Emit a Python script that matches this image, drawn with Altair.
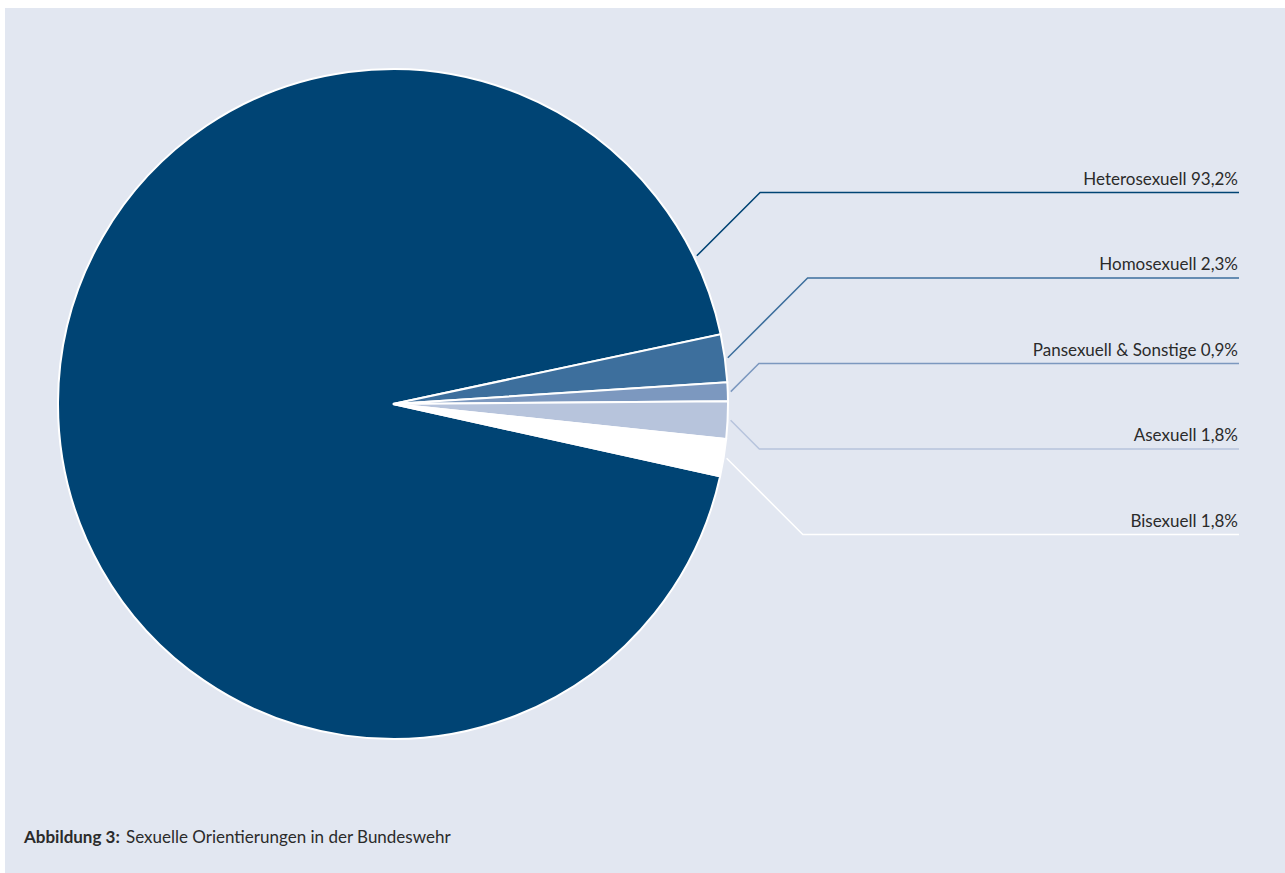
import math
import altair as alt
import pandas as pd

# ---------------- data ----------------
categories = ["Heterosexuell", "Homosexuell", "Pansexuell & Sonstige", "Asexuell", "Bisexuell"]
values = [93.2, 2.3, 0.9, 1.8, 1.8]
value_labels = ["93,2%", "2,3%", "0,9%", "1,8%", "1,8%"]
colors = ["#004474", "#3d6f9d", "#7c98bf", "#b7c4dc", "#ffffff"]
caption_bold = "Abbildung 3:"
caption_text = "Sexuelle Orientierungen in der Bundeswehr"

# ---------------- layout (page pixel coordinates) ----------------
PAD_L, PAD_T = 5, 8
W, H = 1280, 865
CX, CY, R = 393, 404, 335
SMALL_START_DEG = 78.0        # clockwise from north where the small slices begin
BIG_LEADER_DEG = 64.0         # anchor angle for the leader of the big slice
LEADER_R = R + 3
ROW_TOP, ROW_STEP = 192.5, 85.5
LINE_END_X = 1239
FONT = "Lato"
FONT_SIZE = 17
TEXT_COLOR = "#2b2b2b"

total = sum(values)
start_deg = SMALL_START_DEG + 360 * (1 - values[0] / total)
start_rad = math.radians(start_deg)

pie_df = pd.DataFrame({"cat": categories, "value": values, "idx": range(len(values))})

# mid angles of slices (clockwise from north), cumulative from start_deg
mids = []
acc = start_deg
for v in values:
    span = 360 * v / total
    mids.append(acc + span / 2)
    acc += span
mids[0] = BIG_LEADER_DEG

rows = []
lab = []
for i, (c, m) in enumerate(zip(categories, mids)):
    a = math.radians(m)
    sx = CX + LEADER_R * math.sin(a)
    sy = CY - LEADER_R * math.cos(a)
    ry = ROW_TOP + i * ROW_STEP
    ex = sx + abs(ry - sy)
    rows += [
        {"cat": c, "step": 0, "x": sx, "y": sy},
        {"cat": c, "step": 1, "x": ex, "y": ry},
        {"cat": c, "step": 2, "x": LINE_END_X, "y": ry},
    ]
    lab.append({"cat": c, "label": f"{c} {value_labels[i]}", "x": LINE_END_X - 1, "y": ry - 8})
lines_df = pd.DataFrame(rows)
labels_df = pd.DataFrame(lab)

xs = alt.Scale(domain=[PAD_L, PAD_L + W], nice=False, zero=False)
ys = alt.Scale(domain=[PAD_T, PAD_T + H], nice=False, zero=False, reverse=True)
color = alt.Color("cat:N", scale=alt.Scale(domain=categories, range=colors), legend=None)

pie = alt.Chart(pie_df).mark_arc(radius=R, stroke="white", strokeWidth=2).encode(
    theta=alt.Theta("value:Q", stack=True,
                    scale=alt.Scale(range=[start_rad, start_rad + 2 * math.pi])),
    order=alt.Order("idx:Q"),
    color=color,
    x=alt.value(CX - PAD_L),
    y=alt.value(CY - PAD_T),
)

leaders = alt.Chart(lines_df).mark_line(strokeWidth=1.5).encode(
    x=alt.X("x:Q", scale=xs, axis=None),
    y=alt.Y("y:Q", scale=ys, axis=None),
    color=color,
    detail="cat:N",
    order=alt.Order("step:Q"),
)

labels = alt.Chart(labels_df).mark_text(
    align="right", baseline="alphabetic", font=FONT, fontSize=FONT_SIZE, color=TEXT_COLOR
).encode(
    x=alt.X("x:Q", scale=xs, axis=None),
    y=alt.Y("y:Q", scale=ys, axis=None),
    text="label:N",
)

cap_df = pd.DataFrame({"t": [caption_bold, caption_text], "x": [24, 126]})
cap_bold = alt.Chart(cap_df.iloc[[0]]).mark_text(
    align="left", baseline="alphabetic", font=FONT, fontSize=FONT_SIZE, fontWeight="bold",
    color=TEXT_COLOR
).encode(
    x=alt.X("x:Q", scale=xs, axis=None),
    y=alt.value(843 - PAD_T),
    text="t:N",
)
cap_norm = alt.Chart(cap_df.iloc[[1]]).mark_text(
    align="left", baseline="alphabetic", font=FONT, fontSize=FONT_SIZE, color=TEXT_COLOR
).encode(
    x=alt.X("x:Q", scale=xs, axis=None),
    y=alt.value(843 - PAD_T),
    text="t:N",
)

chart = alt.layer(leaders, pie, labels, cap_bold, cap_norm).properties(
    width=W, height=H,
    autosize=alt.AutoSizeParams(type="none"),
    padding={"left": PAD_L, "top": PAD_T, "right": 0, "bottom": 0},
    background="white",
).configure_view(fill="#e2e7f1", strokeWidth=0)

chart.save("out.html", embed_options={"renderer": "svg", "actions": False})
